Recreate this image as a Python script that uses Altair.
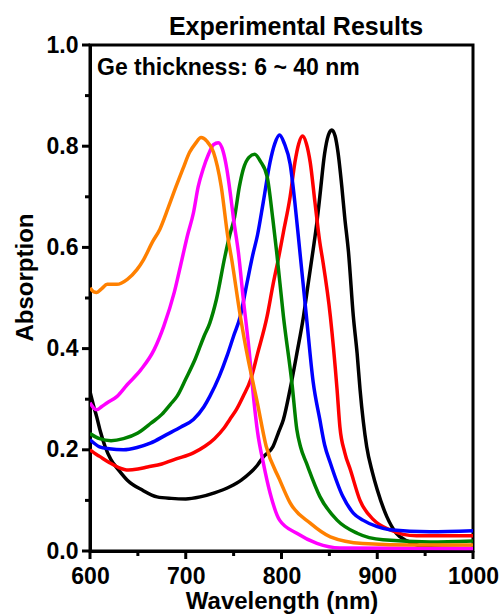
import altair as alt
import pandas as pd

FONT = "Liberation Sans"

names = ["black", "red", "blue", "green", "magenta", "orange"]
colors = ["#000000", "#ff0000", "#0000ff", "#008000", "#ff00ff", "#ff8000"]

wl_black = [600, 604, 607, 611, 616, 622, 630, 639, 655, 670, 685, 700, 715, 730, 746, 758, 767, 775, 781, 791, 797, 802, 809, 816, 823, 828, 833, 837, 840, 845, 849, 852.5, 856, 859, 863, 866, 870, 875, 879, 882, 889, 895, 900, 910, 920, 931, 945, 960, 1000]
ab_black = [0.315, 0.285, 0.265, 0.235, 0.205, 0.18, 0.16, 0.14, 0.12, 0.107, 0.104, 0.103, 0.107, 0.115, 0.127, 0.14, 0.154, 0.17, 0.186, 0.206, 0.235, 0.26, 0.32, 0.39, 0.464, 0.53, 0.595, 0.65, 0.70, 0.785, 0.822, 0.832, 0.82, 0.788, 0.72, 0.66, 0.59, 0.464, 0.39, 0.32, 0.206, 0.155, 0.121, 0.068, 0.035, 0.02, 0.01, 0.006, 0.005]

wl_red = [600, 605, 610, 620, 630, 640, 650, 660, 675, 690, 708, 720, 730, 740, 746, 753, 760, 768, 775, 785, 791, 797, 802, 809, 814, 818, 822, 826, 830, 835, 840, 843, 851, 858, 861, 866, 872, 882, 896, 913, 941, 1000]
ab_red = [0.20, 0.193, 0.187, 0.175, 0.165, 0.16, 0.162, 0.166, 0.172, 0.182, 0.194, 0.207, 0.222, 0.243, 0.26, 0.28, 0.306, 0.34, 0.39, 0.464, 0.525, 0.58, 0.63, 0.70, 0.768, 0.805, 0.82, 0.805, 0.768, 0.688, 0.61, 0.575, 0.464, 0.32, 0.245, 0.195, 0.16, 0.10, 0.062, 0.042, 0.03, 0.03]

wl_blue = [600, 610, 620, 635, 650, 663, 680, 695, 708, 719, 725, 735, 743, 750, 757, 764, 770, 775, 781, 788, 793, 798, 803, 809, 814, 819, 826, 833, 840, 845, 851, 864, 875, 885, 900, 913, 955, 1000]
ab_blue = [0.22, 0.206, 0.202, 0.20, 0.205, 0.213, 0.23, 0.245, 0.26, 0.285, 0.305, 0.345, 0.385, 0.425, 0.464, 0.53, 0.585, 0.625, 0.69, 0.768, 0.805, 0.822, 0.805, 0.765, 0.688, 0.595, 0.464, 0.335, 0.26, 0.21, 0.174, 0.108, 0.075, 0.061, 0.048, 0.042, 0.038, 0.04]

wl_green = [600, 610, 622, 635, 650, 664, 675, 684, 691, 700, 710, 719, 725, 732, 741, 746, 751, 756, 760, 766, 772, 778, 785, 791, 795, 802, 811, 816, 820, 826, 840, 858, 879, 906, 955, 1000]
ab_green = [0.232, 0.222, 0.218, 0.222, 0.233, 0.253, 0.27, 0.29, 0.306, 0.34, 0.38, 0.424, 0.45, 0.497, 0.583, 0.625, 0.66, 0.72, 0.754, 0.778, 0.784, 0.77, 0.74, 0.655, 0.59, 0.464, 0.33, 0.24, 0.205, 0.174, 0.108, 0.061, 0.035, 0.022, 0.018, 0.02]

wl_magenta = [600, 604, 607, 612, 618, 628, 639, 653, 667, 677, 688, 696, 702, 708, 713, 718, 724, 729, 734, 739, 743, 747, 750, 755, 760, 766, 771, 775, 781, 788, 798, 816, 837, 861, 1000]
ab_magenta = [0.293, 0.282, 0.279, 0.285, 0.293, 0.305, 0.329, 0.358, 0.398, 0.444, 0.511, 0.576, 0.625, 0.668, 0.72, 0.754, 0.785, 0.803, 0.807, 0.79, 0.754, 0.70, 0.655, 0.59, 0.50, 0.40, 0.30, 0.235, 0.174, 0.115, 0.061, 0.035, 0.015, 0.006, 0.005]

wl_orange = [600, 604, 607, 612, 618, 628, 639, 649, 656, 665, 673, 682, 690, 697, 704, 710, 716, 722, 729, 737, 744, 748, 757, 765, 770, 774, 784, 798, 809, 830, 851, 885, 941, 1000]
ab_orange = [0.52, 0.512, 0.511, 0.518, 0.527, 0.527, 0.537, 0.556, 0.576, 0.61, 0.636, 0.68, 0.721, 0.755, 0.788, 0.805, 0.817, 0.81, 0.788, 0.721, 0.62, 0.576, 0.464, 0.38, 0.335, 0.30, 0.207, 0.141, 0.095, 0.055, 0.028, 0.015, 0.012, 0.012]

series = [
    ("black", wl_black, ab_black),
    ("red", wl_red, ab_red),
    ("blue", wl_blue, ab_blue),
    ("green", wl_green, ab_green),
    ("magenta", wl_magenta, ab_magenta),
    ("orange", wl_orange, ab_orange),
]

rows = []
for name, wl, ab in series:
    for i, (w, a) in enumerate(zip(wl, ab)):
        rows.append({"series": name, "wl": w, "a": a, "i": i})
df = pd.DataFrame(rows)

x_major = [600, 700, 800, 900, 1000]
x_minor = [650, 750, 850, 950]
y_major = [0.0, 0.2, 0.4, 0.6, 0.8, 1.0]
y_minor = [0.1, 0.3, 0.5, 0.7, 0.9]

x_scale = alt.Scale(domain=[600, 1000], nice=False, zero=False)
y_scale = alt.Scale(domain=[0, 1], nice=False)

x_axis = alt.Axis(
    values=x_major, format="d", title="Wavelength (nm)", orient="bottom",
    labelFlush=False, labelOverlap=False, ticks=False, grid=False, labelPadding=14,
    titleY=57, titleBaseline="alphabetic",
)
y_axis = alt.Axis(
    values=y_major, format=".1f", title="Absorption", orient="left",
    labelFlush=False, labelOverlap=False, ticks=False, grid=False, labelPadding=12,
    titleX=-58, titleY=232, titleBaseline="alphabetic", titleAngle=-90, titleAlign="center",
)

lines = alt.Chart(df).mark_line(strokeWidth=3.5, interpolate="monotone", clip=True).encode(
    x=alt.X("wl:Q", scale=x_scale, axis=x_axis),
    y=alt.Y("a:Q", scale=y_scale, axis=y_axis),
    color=alt.Color("series:N", scale=alt.Scale(domain=names, range=colors), legend=None),
    order="i:Q",
)

TC = "#000000"
x_ticks_major = alt.Chart(pd.DataFrame({"v": x_major})).mark_rule(color=TC, strokeWidth=3, clip=False).encode(
    x=alt.X("v:Q", scale=x_scale, axis=x_axis), y=alt.value(506), y2=alt.value(514))
x_ticks_minor = alt.Chart(pd.DataFrame({"v": x_minor})).mark_rule(color=TC, strokeWidth=3, clip=False).encode(
    x=alt.X("v:Q", scale=x_scale, axis=x_axis), y=alt.value(506), y2=alt.value(511))
y_ticks_major = alt.Chart(pd.DataFrame({"v": y_major})).mark_rule(color=TC, strokeWidth=3, clip=False).encode(
    y=alt.Y("v:Q", scale=y_scale, axis=y_axis), x=alt.value(-8), x2=alt.value(0))
y_ticks_minor = alt.Chart(pd.DataFrame({"v": y_minor})).mark_rule(color=TC, strokeWidth=3, clip=False).encode(
    y=alt.Y("v:Q", scale=y_scale, axis=y_axis), x=alt.value(-5), x2=alt.value(0))

title_df = pd.DataFrame({"t": ["Experimental Results"]})
title = alt.Chart(title_df).mark_text(
    font=FONT, fontSize=25, fontWeight="bold", align="center", baseline="alphabetic", color="black"
).encode(text="t:N", x=alt.value(206), y=alt.value(-10))

note_df = pd.DataFrame({"t": ["Ge thickness: 6 ~ 40 nm"]})
note = alt.Chart(note_df).mark_text(
    font=FONT, fontSize=23, fontWeight="bold", align="left", baseline="alphabetic", color="black"
).encode(text="t:N", x=alt.value(7), y=alt.value(30))

chart = alt.layer(lines, x_ticks_major, x_ticks_minor, y_ticks_major, y_ticks_minor, title, note).properties(
    width=383,
    height=506,
    padding={"left": 90, "top": 45, "right": 31, "bottom": 63},
    autosize=alt.AutoSizeParams(type="none"),
).configure_view(
    stroke="black", strokeWidth=3
).configure_axis(
    labelFont=FONT, labelFontSize=23, labelFontWeight="bold", labelColor="black",
    titleFont=FONT, titleFontSize=24, titleFontWeight="bold", titleColor="black",
    domainColor="black", domainWidth=3,
)

chart.save("out.html", embed_options={"renderer": "svg", "actions": False})
